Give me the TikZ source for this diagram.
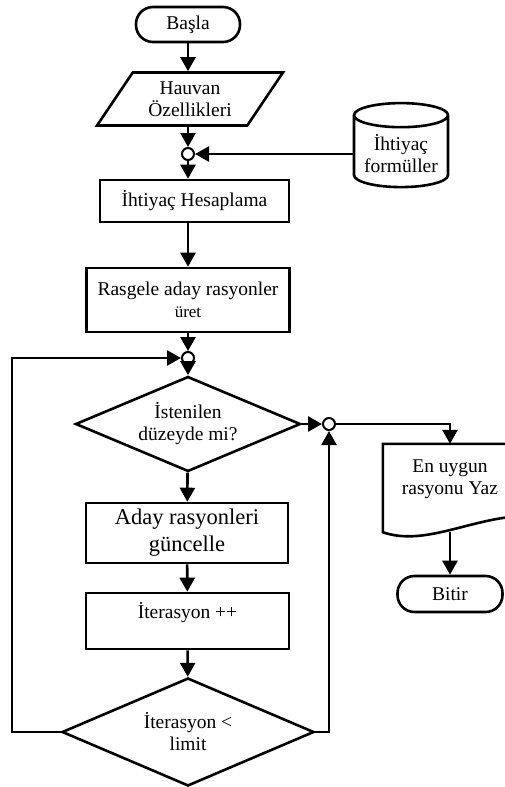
\documentclass[tikz,border=0pt]{standalone}
\usepackage{fontspec}
\setmainfont{Liberation Serif}
\usepackage{tikz}
\usetikzlibrary{shapes.geometric, arrows.meta}
\newcommand{\normtext}{\fontsize{19.5}{22}\selectfont}
\newcommand{\bigtext}{\fontsize{22.5}{27}\selectfont}
\newcommand{\smalltext}{\fontsize{17}{20}\selectfont}
\tikzstyle{startstop} = [rectangle, rounded corners=17pt, minimum width=104pt, minimum height=35pt, text centered, draw=black, line width=2.6pt]
\tikzstyle{io} = [trapezium, trapezium left angle=56, trapezium right angle=124, minimum width=186pt, minimum height=52pt, text centered, align=center, draw=black, line width=2.6pt]
\tikzstyle{process} = [rectangle, minimum width=203pt, text centered, align=center, draw=black, line width=2.6pt]
\tikzstyle{decision} = [diamond, aspect=2.4, inner sep=0pt, text centered, align=center, draw=black, line width=2.6pt]
\tikzstyle{store} = [cylinder, shape border rotate=90, aspect=0.3, minimum width=94pt, minimum height=84pt, text centered, align=center, draw=black, line width=2.6pt]
\tikzstyle{junction} = [circle, minimum size=12pt, inner sep=0pt, draw=black, fill=white, line width=2pt]
\tikzstyle{outputdoc} = [rectangle, minimum width=134pt, minimum height=88pt, text centered, align=center]
\tikzstyle{arrow} = [line width=2.6pt, -{Triangle[length=14pt,width=15pt]}]

\begin{document}
\begin{tikzpicture}[x=1pt, y=1pt, node distance=60pt, font=\normtext]
\useasboundingbox (0,0) rectangle (505,-787);
\clip (0,0) rectangle (505,-787);
\node (start) [startstop] at (188,-24.5) {Başla};
\node (hauvan) [io, below of=start, yshift=-14.5pt, xshift=2pt] {Hauvan\\Özellikleri};
\node (j1) [junction, below of=hauvan, yshift=5pt, xshift=-2pt] {};
\node (cyl) [store, right of=j1, xshift=153pt] {İhtiyaç\\formüller};
\node (hesap) [process, below of=j1, yshift=13pt, xshift=6.5pt, minimum width=189pt, minimum height=42pt] {İhtiyaç Hesaplama};
\node (rasgele) [process, below of=hesap, yshift=-39pt, xshift=-6.5pt, minimum height=64pt] {Rasgele aday rasyonler\\{\smalltext üret}};
\node (j2) [junction, below of=rasgele, yshift=2pt] {};
\node (dec1) [decision, below of=j2, yshift=-6pt, minimum width=225pt, minimum height=95pt] {İstenilen\\düzeyde mi?};
\node (j3) [junction, right of=dec1, xshift=81pt] {};
\node (outdoc) [outputdoc, right of=j3, xshift=61pt, yshift=-64pt] {En uygun\\rasyonu Yaz\\ \mbox{}};
\node (bitir) [startstop, below of=outdoc, yshift=-46pt, minimum width=105pt, minimum height=36pt] {Bitir};
\node (aday) [process, below of=dec1, yshift=-49pt, xshift=-1pt, minimum width=202pt, minimum height=60pt, font=\bigtext] {Aday rasyonleri\\güncelle};
\node (iter) [process, below of=aday, yshift=-28pt, xshift=0.5pt, minimum height=56pt] {İterasyon ++\\ \mbox{}};
\node (dec2) [decision, below of=iter, yshift=-51pt, xshift=0.5pt, minimum width=252pt, minimum height=108pt] {İterasyon <\\limit};
\coordinate (loopL) at (12,-732);

% output document with wavy bottom
\draw [line width=2.6pt] ([yshift=16pt]outdoc.south east) -- (outdoc.north east) -- (outdoc.north west) -- (outdoc.south west) .. controls +(40,-14) and +(-50,-4) .. ([yshift=16pt]outdoc.south east);

\draw [arrow] (start) -- (start |- hauvan.north);
\draw [arrow] (hauvan.south -| j1) -- (j1);
\draw [arrow] (cyl) -- (j1);
\draw [arrow] (j1) -- (j1 |- hesap.north);
\draw [arrow] (hesap.south -| rasgele.north) -- (rasgele.north);
\draw [arrow] (rasgele) -- (j2);
\draw [arrow] (j2) -- (dec1);
\draw [arrow] (dec1) -- (j3);
\draw [arrow] (j3) -| (outdoc.north);
\draw [arrow] (outdoc.south) -- (bitir);
\draw [arrow] (dec1) -- (aday);
\draw [arrow] (aday) -- (iter);
\draw [arrow] (iter) -- (dec2);
\draw [arrow] (dec2.east) -| (j3);
\draw [arrow] (dec2.west) -- (loopL) |- (j2);
\end{tikzpicture}
\end{document}
